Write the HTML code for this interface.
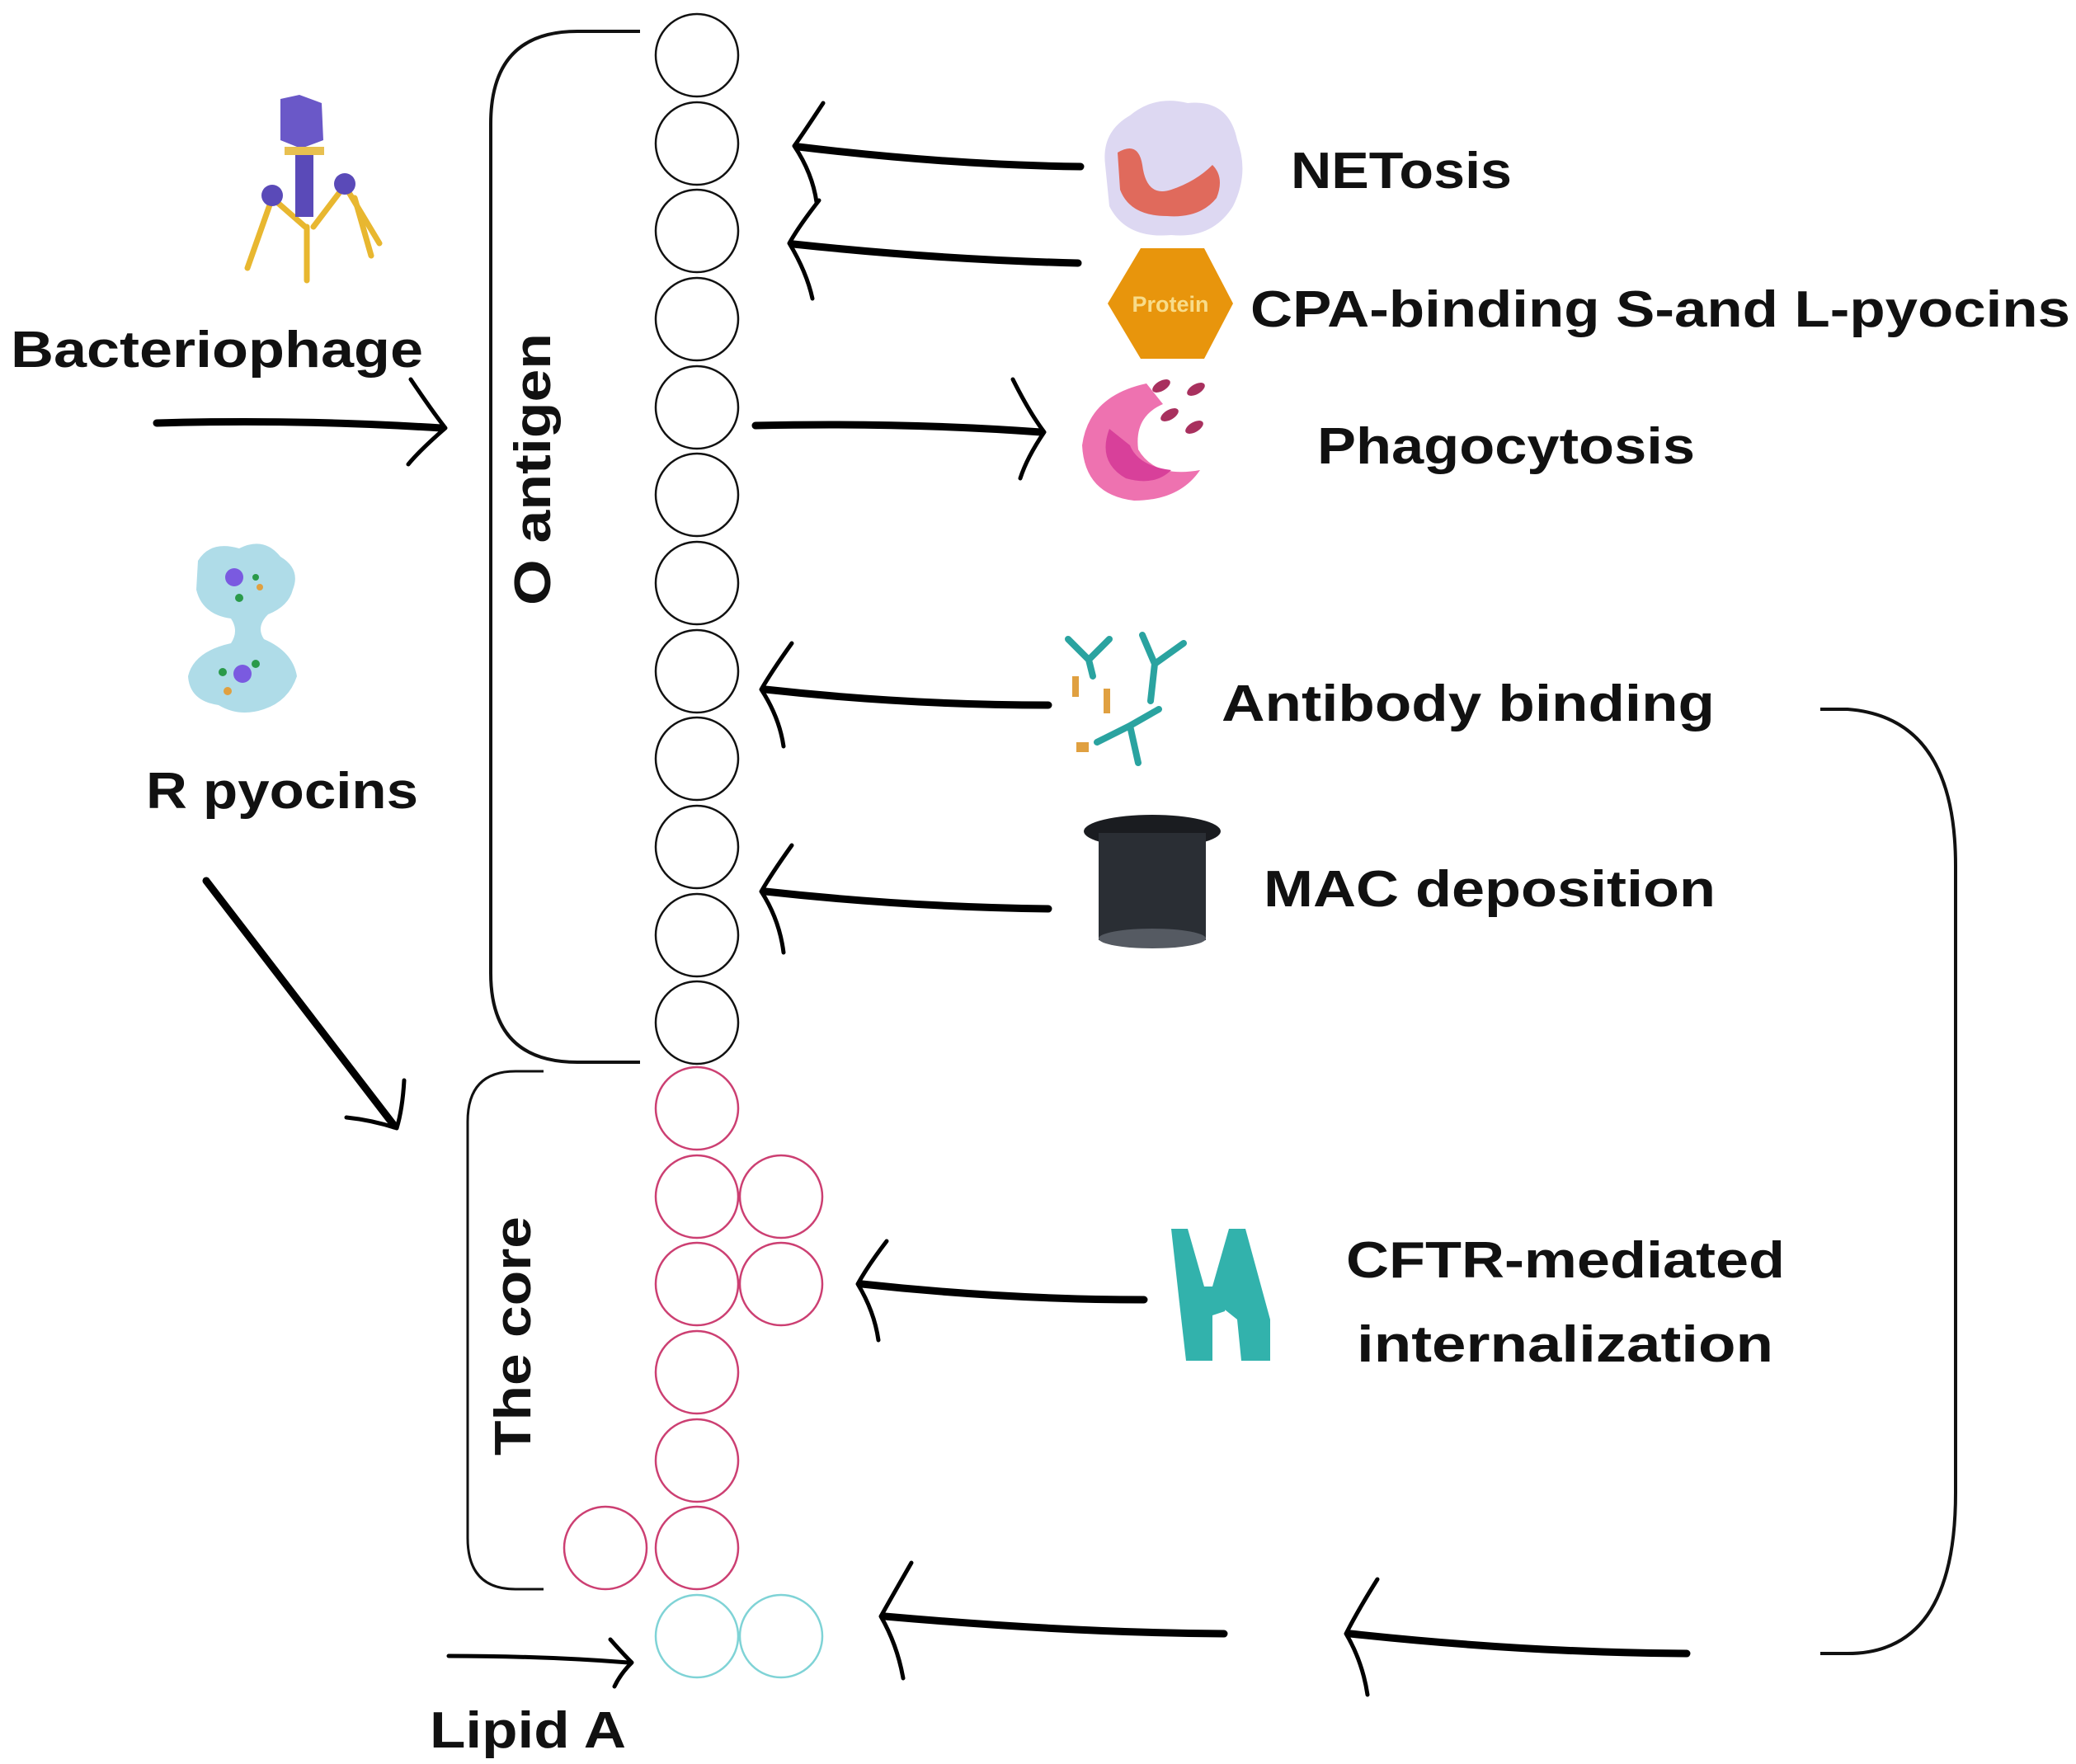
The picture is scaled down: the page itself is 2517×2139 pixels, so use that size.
<!DOCTYPE html>
<html><head><meta charset="utf-8"><style>html,body{margin:0;padding:0;background:#fff}svg{display:block}</style></head>
<body>
<svg width="2517" height="2139" viewBox="0 0 2517 2139" xmlns="http://www.w3.org/2000/svg" font-family="Liberation Sans, sans-serif" font-weight="bold">
<rect width="2517" height="2139" fill="#fff"/>
<!-- O antigen circles -->
<g fill="none" stroke="#111" stroke-width="2.5">
<circle cx="845" cy="67" r="50"/><circle cx="845" cy="174" r="50"/><circle cx="845" cy="280" r="50"/><circle cx="845" cy="387" r="50"/>
<circle cx="845" cy="494" r="50"/><circle cx="845" cy="600" r="50"/><circle cx="845" cy="707" r="50"/><circle cx="845" cy="814" r="50"/>
<circle cx="845" cy="920" r="50"/><circle cx="845" cy="1027" r="50"/><circle cx="845" cy="1134" r="50"/><circle cx="845" cy="1240" r="50"/>
</g>
<g fill="none" stroke="#cc3f72" stroke-width="2.5">
<circle cx="845" cy="1344" r="50"/><circle cx="845" cy="1451" r="50"/><circle cx="947" cy="1451" r="50"/>
<circle cx="845" cy="1557" r="50"/><circle cx="947" cy="1557" r="50"/><circle cx="845" cy="1664" r="50"/>
<circle cx="845" cy="1771" r="50"/><circle cx="845" cy="1877" r="50"/><circle cx="734" cy="1877" r="50"/>
</g>
<g fill="none" stroke="#7fd3d6" stroke-width="2.5">
<circle cx="845" cy="1984" r="50"/><circle cx="947" cy="1984" r="50"/>
</g>
<!-- brackets -->
<g fill="none" stroke="#111" stroke-width="4">
<path d="M776 38 H700 Q595 38 595 150 V1180 Q595 1288 700 1288 H776"/>
<path d="M659 1299 H625 Q567 1299 567 1360 V1865 Q567 1927 625 1927 H659" stroke-width="3"/>
<path d="M2207 860 H2240 Q2371 870 2371 1050 V1810 Q2371 2005 2240 2005 H2207" stroke-width="4"/>
</g>
<!-- arrows -->
<g fill="none" stroke="#000" stroke-width="9" stroke-linecap="round">
<path d="M190 513 Q360 508 535 519"/>
<path d="M990 1090 Q1010 1140 950 200" stroke="none"/>
<path d="M250 1068 L478 1365"/>
<path d="M1310 202 Q1150 200 968 178"/>
<path d="M1307 319 Q1140 315 962 296"/>
<path d="M916 516 Q1100 512 1262 524"/>
<path d="M1271 855 Q1100 855 928 836"/>
<path d="M1271 1102 Q1100 1100 928 1081"/>
<path d="M1387 1576 Q1220 1576 1045 1557"/>
<path d="M1484 1981 Q1300 1980 1073 1960"/>
<path d="M2045 2005 Q1850 2004 1637 1981"/>
<path d="M544 2008 Q660 2008 762 2016" stroke-width="5"/>
</g>
<g fill="none" stroke="#000" stroke-width="5" stroke-linecap="round" stroke-linejoin="round">
<path d="M498 460 Q525 500 540 519 Q510 545 495 563"/>
<path d="M490 1310 Q488 1345 481 1368 Q450 1358 420 1355"/>
<path d="M998 125 Q975 160 963 177 Q985 210 990 245"/>
<path d="M993 243 Q968 275 957 295 Q978 330 985 362"/>
<path d="M1228 460 Q1248 500 1266 524 Q1245 555 1237 580"/>
<path d="M960 780 Q935 815 923 836 Q945 870 950 905"/>
<path d="M960 1025 Q935 1060 923 1081 Q945 1115 950 1155"/>
<path d="M1075 1505 Q1052 1535 1040 1557 Q1060 1590 1065 1625"/>
<path d="M1105 1895 Q1082 1935 1068 1960 Q1088 1995 1095 2035"/>
<path d="M1670 1915 Q1645 1955 1632 1981 Q1652 2015 1658 2055"/>
<path d="M740 1988 Q755 2005 766 2016 Q752 2030 745 2045"/>
</g>
<!-- labels -->
<g fill="#111" font-size="62">
<text x="13" y="445" textLength="500" lengthAdjust="spacingAndGlyphs">Bacteriophage</text>
<text x="177" y="980" textLength="330" lengthAdjust="spacingAndGlyphs">R pyocins</text>
<text x="521" y="2119" textLength="238" lengthAdjust="spacingAndGlyphs">Lipid A</text>
<text x="1565" y="228" textLength="268" lengthAdjust="spacingAndGlyphs">NETosis</text>
<text x="1516" y="396" textLength="994" lengthAdjust="spacingAndGlyphs">CPA-binding S-and L-pyocins</text>
<text x="1597" y="562" textLength="458" lengthAdjust="spacingAndGlyphs">Phagocytosis</text>
<text x="1481" y="874" textLength="598" lengthAdjust="spacingAndGlyphs">Antibody binding</text>
<text x="1532" y="1099" textLength="548" lengthAdjust="spacingAndGlyphs">MAC deposition</text>
<text x="1632" y="1549" textLength="532" lengthAdjust="spacingAndGlyphs">CFTR-mediated</text>
<text x="1645" y="1651" textLength="505" lengthAdjust="spacingAndGlyphs">internalization</text>
<text transform="translate(667,569) rotate(-90)" text-anchor="middle" textLength="330" lengthAdjust="spacingAndGlyphs">O antigen</text>
<text transform="translate(643,1620) rotate(-90)" text-anchor="middle" textLength="290" lengthAdjust="spacingAndGlyphs">The core</text>
</g>
<!-- phage -->
<g>
<g stroke="#e8b730" stroke-width="7" stroke-linecap="round">
<line x1="330" y1="240" x2="300" y2="325"/><line x1="330" y1="240" x2="370" y2="275"/>
<line x1="418" y1="225" x2="460" y2="295"/><line x1="418" y1="225" x2="380" y2="275"/>
<line x1="372" y1="275" x2="372" y2="340"/><line x1="430" y1="240" x2="450" y2="310"/>
</g>
<polygon points="340,120 363,115 390,125 392,170 365,180 340,170" fill="#6a58c8"/>
<rect x="345" y="178" width="48" height="10" fill="#e8c050"/>
<rect x="358" y="188" width="22" height="75" fill="#5a4ab8"/>
<circle cx="330" cy="237" r="13" fill="#5a4ab8"/><circle cx="418" cy="223" r="13" fill="#5a4ab8"/>
</g>
<!-- R pyocins -->
<g>
<path d="M240 680 Q255 655 290 665 Q320 650 340 675 Q365 690 355 715 Q350 735 325 745 Q310 760 320 775 Q355 790 360 820 Q350 850 320 860 Q290 870 265 855 Q230 850 228 820 Q235 790 280 780 Q290 765 280 750 Q245 745 238 715 Z" fill="#a6d8e6" opacity=".9"/>
<circle cx="284" cy="700" r="11" fill="#7a5ae0"/><circle cx="294" cy="817" r="11" fill="#7a5ae0"/>
<circle cx="290" cy="725" r="5" fill="#2a9a4a"/><circle cx="270" cy="815" r="5" fill="#2a9a4a"/><circle cx="310" cy="805" r="5" fill="#2a9a4a"/><circle cx="310" cy="700" r="4" fill="#2a9a4a"/>
<circle cx="276" cy="838" r="5" fill="#e0a040"/><circle cx="315" cy="712" r="4" fill="#e0a040"/>
</g>
<!-- NETosis -->
<g>
<path d="M1340 200 Q1335 160 1370 140 Q1400 115 1440 125 Q1490 120 1500 170 Q1515 210 1495 250 Q1470 290 1420 285 Q1365 290 1345 250 Z" fill="#ddd8f2"/>
<path d="M1355 185 Q1380 170 1385 200 Q1390 240 1420 230 Q1450 220 1470 200 Q1485 215 1475 240 Q1455 265 1415 262 Q1370 262 1358 230 Z" fill="#e06a5c"/>
</g>
<!-- Protein hexagon -->
<polygon points="1383,301 1460,301 1495,368 1460,435 1383,435 1343,368" fill="#e8950c"/>
<text x="1419" y="378" text-anchor="middle" font-size="27" fill="#f8dc8a">Protein</text>
<!-- Phagocytosis -->
<g>
<path d="M1390 465 Q1320 480 1312 540 Q1315 600 1375 607 Q1430 607 1455 570 Q1400 580 1380 545 Q1375 505 1410 490 Z" fill="#ee72b0"/>
<path d="M1345 520 Q1330 560 1365 580 Q1400 590 1420 570 Q1380 565 1370 540 Z" fill="#d8409a"/>
<g fill="#a8305e"><ellipse cx="1408" cy="468" rx="12" ry="6" transform="rotate(-30 1408 468)"/><ellipse cx="1450" cy="472" rx="12" ry="6" transform="rotate(-30 1450 472)"/><ellipse cx="1418" cy="503" rx="12" ry="6" transform="rotate(-30 1418 503)"/><ellipse cx="1448" cy="518" rx="12" ry="6" transform="rotate(-30 1448 518)"/></g>
</g>
<!-- Antibody -->
<g stroke="#2aa3a0" stroke-width="8" stroke-linecap="round" fill="none">
<path d="M1295 775 L1320 800 M1345 775 L1320 800 L1325 820"/>
<path d="M1385 770 L1400 805 M1435 780 L1400 805 L1395 850"/>
<path d="M1330 900 L1370 880 L1380 925 M1370 880 L1405 860"/>
</g>
<g fill="#e0a040"><rect x="1300" y="820" width="8" height="25"/><rect x="1338" y="835" width="8" height="30"/><rect x="1305" y="900" width="15" height="12"/></g>
<!-- MAC hat -->
<g>
<ellipse cx="1397" cy="1008" rx="83" ry="20" fill="#1a1c20"/>
<path d="M1332 1010 H1462 V1140 Q1397 1150 1332 1140 Z" fill="#2a2e34"/>
<ellipse cx="1397" cy="1138" rx="65" ry="12" fill="#555a62"/>
</g>
<!-- CFTR -->
<g fill="#32b2ac">
<polygon points="1420,1490 1440,1490 1460,1560 1470,1560 1490,1490 1505,1490 1485,1590 1470,1595 1470,1650 1440,1650 1440,1590 1430,1580"/>
<polygon points="1475,1580 1505,1490 1510,1490 1540,1600 1540,1650 1505,1650 1500,1600"/>
<polygon points="1430,1580 1455,1600 1450,1650 1438,1650"/>
</g>
</svg>
</body></html>
